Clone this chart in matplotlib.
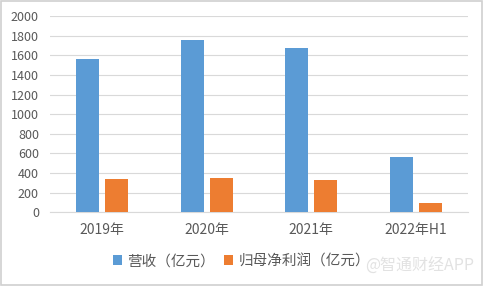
import numpy as np
import matplotlib.pyplot as plt
from matplotlib.patches import Rectangle

plt.rcParams['font.family'] = ['Noto Sans CJK SC', 'DejaVu Sans']

# 数据
categories = ['2019年', '2020年', '2021年', '2022年H1']
revenue = [1560, 1760, 1677, 564]
net_profit = [343, 353, 330, 95]
yticks = [0, 200, 400, 600, 800, 1000, 1200, 1400, 1600, 1800, 2000]

blue = '#5B9BD5'
orange = '#ED7D31'
gray_text = '#595959'

fig = plt.figure(figsize=(4.83, 2.86), dpi=100)
ax = fig.add_axes([0.1035, 0.258, 0.8655, 0.685])

x = np.arange(len(categories))
w = 0.22
ax.bar(x - 0.14, revenue, w, color=blue, label='营收（亿元）', zorder=3)
ax.bar(x + 0.14, net_profit, w, color=orange, label='归母净利润（亿元）', zorder=3)

ax.set_xlim(-0.5, len(categories) - 0.5)
ax.set_ylim(0, 2000)
ax.set_yticks(yticks)
ax.set_xticks(x)
ax.set_xticklabels(categories)
ax.grid(axis='y', color='#D9D9D9', linewidth=0.8, zorder=0)
ax.tick_params(axis='both', length=0, colors=gray_text)
ax.tick_params(axis='y', labelsize=9, pad=8)
ax.tick_params(axis='x', labelsize=10, pad=8)
for s in ['top', 'right', 'left']:
    ax.spines[s].set_visible(False)
ax.spines['bottom'].set_color('#D9D9D9')

leg = fig.legend(loc='center', bbox_to_anchor=(0.5, 0.087), ncol=2, frameon=False,
                 fontsize=10.5, handlelength=0.6, handleheight=0.6, handletextpad=0.4,
                 columnspacing=0.6)
for t in leg.get_texts():
    t.set_color(gray_text)

# 水印
fig.text(0.982, 0.068, '@智通财经APP', ha='right', va='center', fontsize=11.5,
         color='#E2E2E2')

# 外框
fig.patches.append(Rectangle((0.002, 0.003), 0.996, 0.994, transform=fig.transFigure,
                             fill=False, edgecolor='#D0D0D0', linewidth=1.2))

plt.savefig('out.png', dpi=100)
